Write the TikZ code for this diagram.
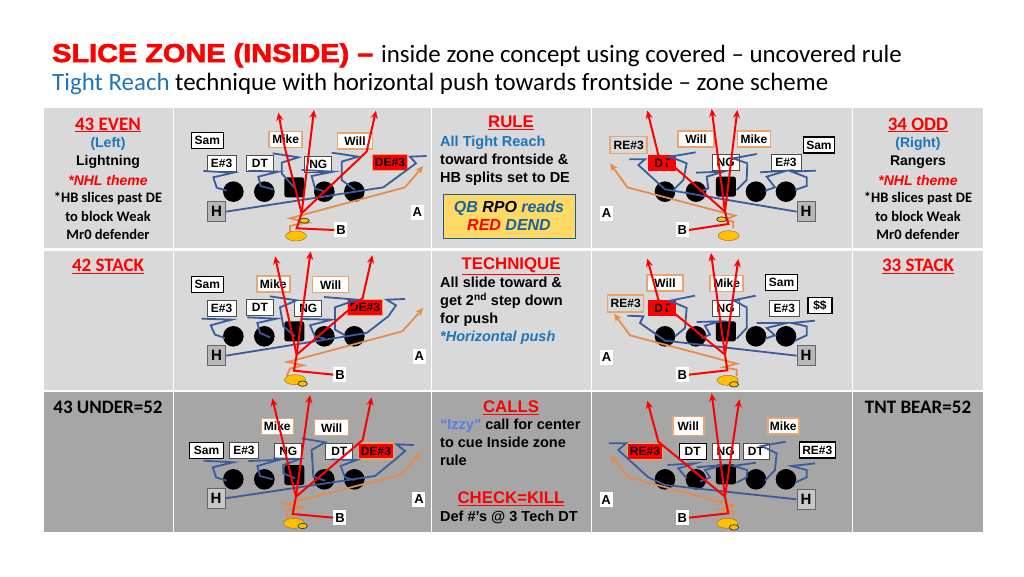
\documentclass[tikz,border=0pt]{standalone}
\usepackage{fontspec}
\usepackage{xcolor}
\usetikzlibrary{positioning,arrows.meta}
\setmainfont{Liberation Sans}
\newfontfamily\calfont{Carlito}
\newfontfamily\slicefont[FakeBold=2.5,FakeStretch=1.12]{Liberation Sans Bold}
\definecolor{panellight}{HTML}{D9D9D9}
\definecolor{paneldark}{HTML}{A6A6A6}
\definecolor{runblue}{HTML}{3B5C9C}
\definecolor{runorange}{HTML}{E58B4B}
\definecolor{boxorange}{HTML}{E9A470}
\definecolor{callblue}{HTML}{1C75BC}
\definecolor{qbgold}{HTML}{FFC000}
\definecolor{rpogold}{HTML}{FFD966}
\tikzset{
	lightpanel/.style={fill=panellight},
	darkpanel/.style={fill=paneldark},
	ply/.style={inner sep=0pt, font=\fontsize{12}{12}\bfseries, fill=white, minimum height=16pt},
	plyblack/.style={ply, draw=black, line width=1.6pt},
	plythin/.style={ply, draw=black!70, line width=0.7pt},
	plyorange/.style={ply, draw=boxorange, line width=1.4pt},
	plyred/.style={ply, draw=boxorange, line width=1.2pt, fill=red},
	backbox/.style={ply, draw=black!60, fill=black!28, line width=0.7pt, minimum width=18pt, minimum height=20pt, font=\fontsize{15}{15}\bfseries},
	tag/.style={ply, minimum width=13pt, minimum height=15pt, font=\fontsize{13}{13}\bfseries},
	blockrun/.style={runblue, line width=1.8pt},
	fakerun/.style={runorange, line width=1.8pt, {Stealth[length=8pt,width=7pt]}-},
	cutrun/.style={red, line width=2pt, -{Stealth[length=8pt,width=7pt]}},
	qb/.style={fill=qbgold, draw=runorange!70!black, line width=0.4pt},
	ball/.style={fill=qbgold, draw=black!80, line width=0.7pt},
	side/.style={inner sep=0pt, anchor=center, font=\calfont\fontsize{14.5}{14.5}\bfseries},
	hdr/.style={inner sep=0pt, font=\calfont\fontsize{19}{19}\bfseries},
	midhdr/.style={inner sep=0pt, text=red, font=\fontsize{16.8}{16.8}\bfseries},
	note/.style={inner sep=0pt, anchor=north west, align=left, font=\fontsize{14.5}{18}\bfseries},
}
\begin{document}
\begin{tikzpicture}[x=1pt, y=-1pt]
	\useasboundingbox (0,0) rectangle (1024,576);
	% title
	\node[inner sep=0pt, anchor=base west] (titleA) at (52,62) {\slicefont\fontsize{25.8}{25.8}\selectfont\textcolor{red}{SLICE ZONE (INSIDE) –}};
	\node[inner sep=0pt, anchor=base west] (titleB) at (381,62) {\calfont\fontsize{24.9}{24.9}\selectfont inside zone concept using covered – uncovered rule};
	\node[inner sep=0pt, anchor=base west] (titleC) at (52,90) {\calfont\fontsize{24.9}{24.9}\selectfont\textcolor{callblue}{Tight Reach} technique with horizontal push towards frontside – zone scheme};
	% panels
	\foreach \px/\qx in {44/173, 174/431, 432/591, 592/852, 853/983} {
		\fill[lightpanel] (\px,108) rectangle (\qx,248);
		\fill[lightpanel] (\px,251) rectangle (\qx,390);
		\fill[darkpanel] (\px,392) rectangle (\qx,532);
	}
	% left column
	\node[hdr, text=red] (evenA) at (108,125) {\underline{43 EVEN}};
	\node[side, text=callblue, font=\fontsize{14}{14}\bfseries] (evenB) at (108,144) {(Left)};
	\node[side, font=\fontsize{14}{14}\bfseries] (evenC) at (108,162) {Lightning};
	\node[side, text=red, font=\fontsize{14}{14}\bfseries\itshape] (evenD) at (108,180) {*NHL theme};
	\node[side] (evenE) at (108,198) {*HB slices past DE};
	\node[side] (evenF) at (108,216) {to block Weak};
	\node[side] (evenG) at (108,234) {Mr0 defender};
	\node[hdr, text=red] (stackA) at (108,266) {\underline{42 STACK}};
	\node[hdr] (underA) at (108,407) {43 UNDER=52};
	% right column
	\node[hdr, text=red] (oddA) at (918,125) {\underline{34 ODD}};
	\node[side, text=callblue, font=\fontsize{14}{14}\bfseries] (oddB) at (918,144) {(Right)};
	\node[side, font=\fontsize{14}{14}\bfseries] (oddC) at (918,162) {Rangers};
	\node[side, text=red, font=\fontsize{14}{14}\bfseries\itshape] (oddD) at (918,180) {*NHL theme};
	\node[side] (oddE) at (918,198) {*HB slices past DE};
	\node[side] (oddF) at (918,216) {to block Weak};
	\node[side] (oddG) at (918,234) {Mr0 defender};
	\node[hdr, text=red] (stackB) at (918,266) {\underline{33 STACK}};
	\node[hdr] (bearA) at (918,407) {TNT BEAR=52};
	% middle column
	\node[midhdr] (ruleA) at (511,123) {\underline{RULE}};
	\node[note] (ruleB) at (440,136) {\textcolor{callblue}{All Tight Reach}\\toward frontside \&\\HB splits set to DE};
	\node[draw=callblue!80!black, fill=rpogold, line width=0.7pt, minimum width=132pt, minimum height=44pt, inner sep=0pt, align=center, font=\fontsize{16}{18}\bfseries\itshape] (rpoA) at (509,216) {\textcolor{callblue!85!black}{QB} RPO \textcolor{callblue!85!black}{reads}\\\textcolor{red}{RED} \textcolor{callblue!85!black}{DEND}};
	\node[midhdr] (techA) at (511,266) {\underline{TECHNIQUE}};
	\node[note] (techB) at (440,277) {All slide toward \&\\get 2\textsuperscript{nd} step down\\for push\\\textcolor{callblue}{\itshape *Horizontal push}};
	\node[midhdr] (callA) at (511,408) {\underline{CALLS}};
	\node[note] (callB) at (440,419) {\textcolor{callblue!60!blue!70!white}{``Izzy''} call for center\\to cue Inside zone\\rule};
	\node[midhdr] (killA) at (511,499) {\underline{CHECK=KILL}};
	\node[note, anchor=west] (killB) at (440,517) {Def \#'s @ 3 Tech DT};
	% 43 even
	\begin{scope}[shift={(170,100)}, x=0.3333pt, y=-0.3333pt]
		\node[plyblack, minimum width=32pt] (samA) at (112,122) {Sam};
		\node[plyorange, minimum width=33pt] (mikeA) at (347,119) {Mike};
		\node[plyorange, minimum width=35pt] (willA) at (555,123) {Will};
		\node[plythin, minimum width=29pt] (eA) at (155,190) {E\#3};
		\node[plythin, minimum width=27pt] (dtA) at (270,190) {DT};
		\node[plythin, minimum width=27pt] (ngA) at (445,192) {NG};
		\node[plyred, minimum width=35pt] (deA) at (660,187) {DE\#3};
		\node[backbox] (hA) at (140,335) {H};
		\node[tag] (aA) at (742,337) {A};
		\node[tag] (bA) at (513,390) {B};
		\foreach \cx in {190,283,463,553} \fill (\cx,275) circle (10.3pt);
		\fill[rounded corners=2.5pt] (343,232) rectangle (403,292);
		\draw[blockrun] (100,213) -- (190,218) -- (130,232) -- (140,263) -- (170,272);
		\draw[blockrun] (235,212) -- (325,215) -- (265,230) -- (272,258) -- (310,268);
		\draw[blockrun] (308,160) -- (385,172) -- (335,188) -- (335,220) -- (375,265);
		\draw[blockrun] (395,210) -- (490,215) -- (425,228) -- (435,265) -- (465,275);
		\draw[blockrun] (485,158) -- (565,170) -- (515,185) -- (515,240) -- (555,270);
		\draw[blockrun] (hA.east) -- (640,262) -- (738,190) -- (720,170) -- (770,168);
		\draw[fakerun] (760,198) -- (705,262) -- (360,355) -- (415,368) -- (385,372) -- (360,378) -- (360,395);
		\coordinate (cutA) at (395,340);
		\draw[cutrun] (cutA) -- (345,145) -- (325,38);
		\draw[cutrun] (cutA) -- (432,30);
		\draw[cutrun] (cutA) -- (590,155) -- (618,32);
		\draw[red, line width=2pt] (bA.west) -- (380,385) -- (cutA);
		\fill[qb] (378,408) ellipse (10.5pt and 5pt);
		\draw[ball] (403,362) ellipse (5pt and 2.5pt);
	\end{scope}
	% 34 odd
	\begin{scope}[shift={(590,100)}, x=0.3333pt, y=-0.3333pt]
		\node[plyorange, minimum width=37pt, minimum height=17pt, fill=none] (reB) at (116,135) {RE\#3};
		\node[plyorange, minimum width=36pt] (willB) at (318,117) {Will};
		\node[plyorange, minimum width=33pt] (mikeB) at (492,117) {Mike};
		\node[plyblack, minimum width=31pt] (samB) at (687,135) {Sam};
		\node[plyred, draw=none, minimum width=28pt] (dtB) at (217,190) {DT};
		\node[plythin, minimum width=27pt] (ngB) at (407,188) {NG};
		\node[plythin, minimum width=30pt] (eB) at (588,187) {E\#3};
		\node[backbox] (hB) at (648,335) {H};
		\node[tag] (aB) at (50,340) {A};
		\node[tag] (bB) at (277,390) {B};
		\foreach \cx in {225,318,498,588} \fill (\cx,275) circle (10.3pt);
		\fill[rounded corners=2.5pt] (378,230) rectangle (438,290);
		\draw[blockrun] (317,157) -- (240,170) -- (290,190) -- (280,240) -- (250,270);
		\draw[blockrun] (318,218) -- (400,215) -- (350,230) -- (355,265) -- (330,275);
		\draw[blockrun] (500,162) -- (430,175) -- (472,190) -- (470,240) -- (440,270);
		\draw[blockrun] (510,217) -- (590,212) -- (530,230) -- (555,262) -- (525,272);
		\draw[blockrun] (678,212) -- (605,215) -- (650,232) -- (650,258) -- (615,270);
		\draw[blockrun] (hB.west) -- (225,268) -- (145,195) -- (165,178) -- (118,178);
		\draw[fakerun] (60,190) -- (112,262) -- (435,347) -- (405,360) -- (430,365) -- (430,385);
		\coordinate (cutB) at (405,335);
		\draw[cutrun] (cutB) -- (258,205) -- (205,165) -- (172,32);
		\draw[cutrun] (cutB) -- (365,27);
		\draw[cutrun] (cutB) -- (442,30);
		\draw[red, line width=2pt] (bB.east) -- (415,372) -- (cutB);
		\fill[qb] (416,407) ellipse (10.5pt and 5pt);
		\draw[ball] (395,358) ellipse (5pt and 2.5pt);
	\end{scope}
	% 42 stack
	\begin{scope}[shift={(170,248)}, x=0.3333pt, y=-0.3333pt]
		\node[plyblack, minimum width=32pt] (samC) at (112,110) {Sam};
		\node[plyorange, minimum width=33pt] (mikeC) at (310,108) {Mike};
		\node[plyorange, minimum width=36pt] (willC) at (482,110) {Will};
		\node[plythin, minimum width=29pt] (eC) at (155,180) {E\#3};
		\node[plythin, minimum width=27pt] (dtC) at (270,178) {DT};
		\node[plythin, minimum width=27pt] (ngC) at (415,182) {NG};
		\node[plyred, minimum width=35pt] (deC) at (585,178) {DE\#3};
		\node[backbox] (hC) at (140,323) {H};
		\node[tag] (aC) at (748,325) {A};
		\node[tag] (bC) at (510,380) {B};
		\foreach \cx in {190,283,463,553} \fill (\cx,265) circle (10.3pt);
		\fill[rounded corners=2.5pt] (343,220) rectangle (403,280);
		\draw[blockrun] (95,212) -- (185,215) -- (122,232) -- (135,260) -- (165,270);
		\draw[blockrun] (232,208) -- (320,212) -- (262,225) -- (270,255) -- (300,268);
		\draw[blockrun] (300,145) -- (380,157) -- (330,178) -- (340,235) -- (375,265);
		\draw[blockrun] (395,213) -- (485,215) -- (420,232) -- (435,265) -- (465,272);
		\draw[blockrun] (462,147) -- (560,155) -- (495,178) -- (495,245) -- (525,262);
		\draw[blockrun] (hC.east) -- (590,255) -- (655,205) -- (678,172) -- (650,155) -- (705,153);
		\draw[fakerun] (760,180) -- (697,250) -- (380,335) -- (352,342) -- (400,352) -- (360,362) -- (350,385);
		\coordinate (cutC) at (380,320);
		\draw[cutrun] (cutC) -- (315,25);
		\draw[cutrun] (cutC) -- (422,10);
		\draw[cutrun] (cutC) -- (578,150) -- (607,22);
		\draw[red, line width=2pt] (bC.west) -- (372,368) -- (cutC);
		\fill[qb] (375,395) ellipse (10.5pt and 5pt);
		\draw[ball] (398,407) ellipse (4.7pt and 2.7pt);
	\end{scope}
	% 33 stack
	\begin{scope}[shift={(590,248)}, x=0.3333pt, y=-0.3333pt]
		\node[plyorange, minimum width=36pt, minimum height=17pt, fill=none] (reD) at (107,167) {RE\#3};
		\node[plyorange, minimum width=36pt] (willD) at (225,105) {Will};
		\node[plyorange, minimum width=33pt] (mikeD) at (410,107) {Mike};
		\node[plyblack, minimum width=32pt] (samD) at (575,103) {Sam};
		\node[plyred, draw=none, minimum width=28pt] (dtD) at (217,180) {DT};
		\node[plythin, minimum width=27pt] (ngD) at (407,180) {NG};
		\node[plythin, minimum width=30pt] (eD) at (583,180) {E\#3};
		\node[plyblack, minimum width=24pt] (safeD) at (690,173) {\$\$};
		\node[backbox] (hD) at (648,323) {H};
		\node[tag] (aD) at (50,328) {A};
		\node[tag] (bD) at (277,380) {B};
		\foreach \cx in {225,318,498,588} \fill (\cx,265) circle (10.3pt);
		\fill[rounded corners=2.5pt] (378,220) rectangle (438,280);
		\draw[blockrun] (315,143) -- (240,158) -- (290,180) -- (285,240) -- (255,265);
		\draw[blockrun] (320,222) -- (390,220) -- (345,233) -- (360,260) -- (335,270);
		\draw[blockrun] (497,143) -- (430,157) -- (470,178) -- (470,240) -- (440,272);
		\draw[blockrun] (500,225) -- (590,225) -- (530,240) -- (555,262) -- (525,272);
		\draw[blockrun] (675,218) -- (605,225) -- (650,235) -- (650,262) -- (615,278);
		\draw[blockrun] (hD.west) -- (225,278) -- (150,225) -- (160,205) -- (112,203);
		\draw[fakerun] (72,197) -- (120,262) -- (440,347) -- (400,358) -- (440,365) -- (440,385);
		\coordinate (cutD) at (405,320);
		\draw[cutrun] (cutD) -- (258,200) -- (205,155) -- (172,32);
		\draw[cutrun] (cutD) -- (363,15);
		\draw[cutrun] (cutD) -- (445,33);
		\draw[red, line width=2pt] (bD.east) -- (412,367) -- (cutD);
		\fill[qb] (413,397) ellipse (10.5pt and 5pt);
		\draw[ball] (432,409) ellipse (4.7pt and 2.7pt);
	\end{scope}
	% 43 under
	\begin{scope}[shift={(170,390)}, x=0.3333pt, y=-0.3333pt]
		\node[plyblack, minimum width=34pt] (samE) at (110,182) {Sam};
		\node[plythin, minimum width=29pt] (eE) at (222,182) {E\#3};
		\node[plyorange, minimum width=32pt] (mikeE) at (322,110) {Mike};
		\node[plyorange, minimum width=34pt] (willE) at (485,113) {Will};
		\node[plythin, minimum width=27pt] (ngE) at (355,185) {NG};
		\node[plythin, minimum width=27pt] (dtE) at (508,185) {DT};
		\node[plyred, minimum width=35pt] (deE) at (618,183) {DE\#3};
		\node[backbox, fill=black!22] (hE) at (138,325) {H};
		\node[tag] (aE) at (747,328) {A};
		\node[tag] (bE) at (510,383) {B};
		\foreach \cx in {190,283,463,553} \fill (\cx,268) circle (10.3pt);
		\fill[rounded corners=2.5pt] (343,225) rectangle (403,285);
		\draw[blockrun] (100,212) -- (190,217) -- (128,232) -- (138,262) -- (170,272);
		\draw[blockrun] (235,213) -- (325,210) -- (262,228) -- (270,258) -- (308,268);
		\draw[blockrun] (310,205) -- (390,207) -- (340,225) -- (340,250) -- (375,265);
		\draw[blockrun] (395,145) -- (465,157) -- (425,180) -- (430,260) -- (465,272);
		\draw[blockrun] (485,208) -- (560,210) -- (512,228) -- (525,262) -- (553,270);
		\draw[blockrun] (hE.east) -- (615,258) -- (680,205) -- (705,183) -- (680,163) -- (732,165);
		\draw[fakerun] (752,190) -- (695,253) -- (375,335) -- (345,342) -- (398,352) -- (350,362) -- (350,380) -- (372,385);
		\coordinate (cutE) at (378,320);
		\draw[cutrun] (cutE) -- (307,25);
		\draw[cutrun] (cutE) -- (420,15);
		\draw[cutrun] (cutE) -- (578,150) -- (605,22);
		\draw[red, line width=2pt] (bE.west) -- (368,372) -- (cutE);
		\fill[qb] (372,400) ellipse (10.5pt and 5pt);
		\draw[ball] (398,408) ellipse (4.7pt and 2.7pt);
	\end{scope}
	% tnt bear
	\begin{scope}[shift={(590,390)}, x=0.3333pt, y=-0.3333pt]
		\node[plyorange, minimum width=31pt, minimum height=19pt] (willF) at (295,108) {Will};
		\node[plyorange, minimum width=31pt] (mikeF) at (580,108) {Mike};
		\node[plyblack, minimum width=36pt] (reF) at (682,180) {RE\#3};
		\node[plyred, minimum width=35pt] (reG) at (165,185) {RE\#3};
		\node[plythin, draw=black, minimum width=27pt] (dtF) at (308,185) {DT};
		\node[plythin, minimum width=27pt] (ngF) at (407,185) {NG};
		\node[plythin, minimum width=26pt] (dtG) at (498,183) {DT};
		\node[backbox, fill=black!22] (hF) at (648,328) {H};
		\node[tag] (aF) at (48,330) {A};
		\node[tag] (bF) at (277,383) {B};
		\foreach \cx in {225,318,498,588} \fill (\cx,268) circle (10.3pt);
		\fill[rounded corners=2.5pt] (378,223) rectangle (438,283);
		\draw[blockrun] (587,155) -- (515,168) -- (560,190) -- (555,240) -- (525,272);
		\draw[blockrun] (232,225) -- (315,220) -- (265,235) -- (290,265);
		\draw[blockrun] (320,232) -- (400,225) -- (345,240) -- (360,262) -- (330,275);
		\draw[blockrun] (498,218) -- (430,228) -- (472,240) -- (470,262) -- (440,278);
		\draw[blockrun] (675,220) -- (605,228) -- (650,240) -- (650,262) -- (615,278);
		\draw[blockrun] (hF.west) -- (225,285) -- (175,262) -- (85,180) -- (108,160) -- (57,160);
		\draw[fakerun] (62,195) -- (115,262) -- (435,347) -- (388,358) -- (430,365) -- (430,385);
		\coordinate (cutF) at (405,320);
		\draw[cutrun] (cutF) -- (205,155) -- (172,32);
		\draw[cutrun] (cutF) -- (365,10);
		\draw[cutrun] (cutF) -- (448,28);
		\draw[red, line width=2pt] (bF.east) -- (415,370) -- (cutF);
		\fill[qb] (412,400) ellipse (10.5pt and 5pt);
		\draw[ball] (432,412) ellipse (4.7pt and 2.7pt);
	\end{scope}
\end{tikzpicture}
\end{document}
